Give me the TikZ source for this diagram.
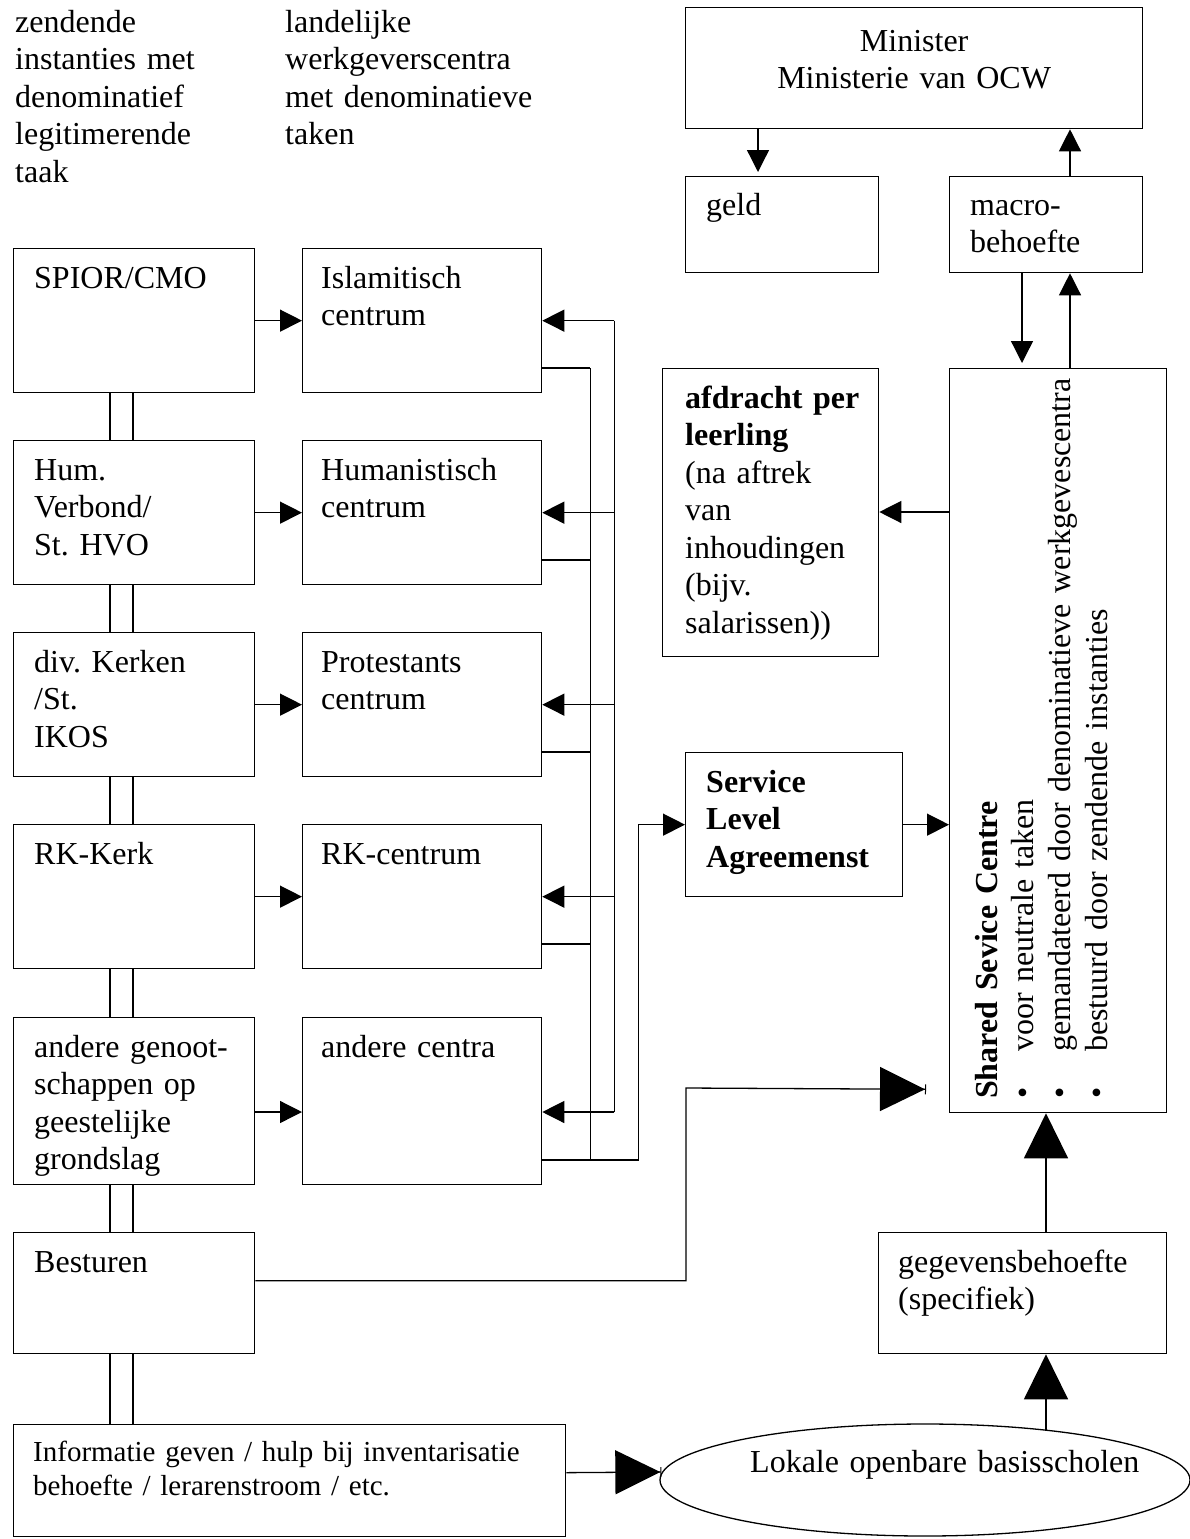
\documentclass[tikz,border=0pt]{standalone}
\usepackage{fontspec}
\setmainfont{Liberation Serif}
\usetikzlibrary{arrows.meta,calc,shapes.geometric}
\newcommand\mainsz{\fontsize{32}{37.5}\selectfont\frenchspacing}
\newcommand\infosz{\fontsize{29}{34.5}\selectfont\frenchspacing}
\begin{document}
\frenchspacing
\begin{tikzpicture}[x=1pt,y=-1pt,
  box/.style={draw,line width=1.3pt,inner sep=0pt,anchor=north west},
  txt/.style={inner sep=0pt,anchor=base west,text width=#1,align=left,font=\mainsz},
  txt/.default=300pt,
  ln/.style={line width=1.3pt},
  arr/.style={line width=1.3pt,-{Triangle[length=22pt,width=22pt]}},
  bigarr/.style={line width=1.3pt,-{Triangle[length=45pt,width=44pt]}},
  bigbar/.style={line width=1.3pt,-{Triangle[length=45pt,width=44pt,sep=0pt]Bar[width=10pt,line width=1pt]}},
]
\useasboundingbox (0,0) rectangle (1190,1539);

% ---------- top texts ----------
\node[txt] (zend) at (15,32) {zendende\\instanties met\\denominatief\\legitimerende\\taak};
\node[txt] (land) at (285,32) {landelijke\\werkgeverscentra\\met denominatieve\\taken};

% ---------- right upper part ----------
\node[box,minimum width=457pt,minimum height=121pt] (min) at (685,7) {};
\node[txt=457pt,align=center,anchor=base] (min-t) at ($(min.north)+(0,44)$) {Minister\\Ministerie van OCW};
\node[box,minimum width=193pt,minimum height=96pt] (geld) at (685,176) {};
\node[txt] (geld-t) at ($(geld.north west)+(21,39)$) {geld};
\node[box,minimum width=193pt,minimum height=96pt] (macro) at (949,176) {};
\node[txt] (macro-t) at ($(macro.north west)+(21,39)$) {macro-\\behoefte};
\node[box,minimum width=216pt,minimum height=288pt] (afdr) at (662,368) {};
\node[txt] (afdr-t) at ($(afdr.north west)+(23,40)$) {\textbf{afdracht per}\\\textbf{leerling}\\(na aftrek\\van\\inhoudingen\\(bijv.\\salarissen))};
\node[box,minimum width=217pt,minimum height=744pt] (ssc) at (949,368) {};
\node[txt=800pt,rotate=90] (ssc-t1) at (997,1099) {\textbf{Shared Sevice Centre}};
\node[txt=800pt,rotate=90] (ssc-t2) at (1033,1099) {\makebox[47pt][l]{\textbullet}voor neutrale taken};
\node[txt=800pt,rotate=90] (ssc-t3) at (1070,1099) {\makebox[47pt][l]{\textbullet}gemandateerd door denominatieve werkgevescentra};
\node[txt=800pt,rotate=90] (ssc-t4) at (1107,1099) {\makebox[47pt][l]{\textbullet}bestuurd door zendende instanties};
\node[box,minimum width=217pt,minimum height=144pt] (sla) at (685,752) {};
\node[txt,font=\mainsz\bfseries] (sla-t) at ($(sla.north west)+(21,40)$) {Service\\Level\\Agreemenst};
\node[box,minimum width=288pt,minimum height=121pt] (geg) at (878,1232) {};
\node[txt] (geg-t) at ($(geg.north west)+(20,40)$) {gegevensbehoefte\\(specifiek)};
\node[draw,line width=1.3pt,ellipse,inner sep=0pt,minimum width=530pt,minimum height=112pt] (lok) at (925,1480) {};
\node[txt=420pt] (lok-t) at (750,1472) {Lokale openbare basisscholen};

% ---------- left columns ----------
\node[box,minimum width=241pt,minimum height=144pt] (spior) at (13,248) {};
\node[box,minimum width=241pt,minimum height=144pt] (hum) at (13,440) {};
\node[box,minimum width=241pt,minimum height=144pt] (div) at (13,632) {};
\node[box,minimum width=241pt,minimum height=144pt] (rkk) at (13,824) {};
\node[box,minimum width=241pt,minimum height=167pt] (andl) at (13,1017) {};
\node[box,minimum width=241pt,minimum height=121pt] (bes) at (13,1232) {};
\node[box,minimum width=552pt,minimum height=112pt] (info) at (13,1424) {};
\node[txt] (spior-t) at ($(spior.north west)+(21,40)$) {SPIOR/CMO};
\node[txt] (hum-t) at ($(hum.north west)+(21,40)$) {Hum.\\Verbond/\\St. HVO};
\node[txt] (div-t) at ($(div.north west)+(21,40)$) {div. Kerken\\/St.\\IKOS};
\node[txt] (rkk-t) at ($(rkk.north west)+(21,40)$) {RK-Kerk};
\node[txt] (andl-t) at ($(andl.north west)+(21,40)$) {andere genoot-\\schappen op\\geestelijke\\grondslag};
\node[txt] (bes-t) at ($(bes.north west)+(21,40)$) {Besturen};
\node[txt=540pt,font=\infosz] (info-t) at ($(info.north west)+(20,37)$) {Informatie geven / hulp bij inventarisatie\\behoefte / lerarenstroom / etc.};

\node[box,minimum width=239pt,minimum height=144pt] (islam) at (302,248) {};
\node[box,minimum width=239pt,minimum height=144pt] (humc) at (302,440) {};
\node[box,minimum width=239pt,minimum height=144pt] (prot) at (302,632) {};
\node[box,minimum width=239pt,minimum height=144pt] (rkc) at (302,824) {};
\node[box,minimum width=239pt,minimum height=167pt] (andc) at (302,1017) {};
\node[txt] (islam-t) at ($(islam.north west)+(19,40)$) {Islamitisch\\centrum};
\node[txt] (humc-t) at ($(humc.north west)+(19,40)$) {Humanistisch\\centrum};
\node[txt] (prot-t) at ($(prot.north west)+(19,40)$) {Protestants\\centrum};
\node[txt] (rkc-t) at ($(rkc.north west)+(19,40)$) {RK-centrum};
\node[txt] (andc-t) at ($(andc.north west)+(19,40)$) {andere centra};

% ---------- double lines ----------
\foreach \a/\b in {spior/hum,hum/div,div/rkk,rkk/andl,andl/bes,bes/info} {
  \draw[ln] ($(\a.south west)+(97,0)$) -- ($(\b.north west)+(97,0)$);
  \draw[ln] ($(\a.south west)+(120,0)$) -- ($(\b.north west)+(120,0)$);
}

% ---------- left to centre ----------
\foreach \a/\b in {spior/islam,hum/humc,div/prot,rkk/rkc}
  \draw[arr] (\a.east) -- (\b.west);
\draw[arr] ($(andl.north east)+(0,95)$) -- ($(andc.north west)+(0,95)$);

% ---------- buses ----------
\foreach \b in {islam,humc,prot,rkc} {
  \draw[arr] ($(\b.east)+(72,0)$) -- (\b.east);
  \draw[ln] ($(\b.north east)+(0,120)$) -- ($(\b.north east)+(48,120)$);
}
\draw[arr] ($(andc.north east)+(72,95)$) -- ($(andc.north east)+(0,95)$);
\draw[ln] ($(islam.east)+(72,0)$) -- ($(andc.north east)+(72,95)$);
\draw[ln] ($(islam.north east)+(48,120)$) -- ($(andc.north east)+(48,143)$);
\draw[arr] ($(andc.north east)+(0,143)$) -- ($(andc.north east)+(96,143)$) |- (sla.west);

% ---------- right side connectors ----------
\draw[arr] (sla.east) -- (sla.east -| ssc.west);
\draw[arr] ($(ssc.north west)+(0,144)$) -- ($(afdr.north east)+(0,144)$);
\draw[arr] ($(min.south west)+(73,0)$) -- ($(geld.north west)+(73,-4)$);
\draw[arr] ($(macro.north west)+(121,0)$) -- ($(min.south west)+(385,0)$);
\draw[arr] ($(macro.south west)+(73,0)$) -- ($(ssc.north west)+(73,-5)$);
\draw[arr] ($(ssc.north west)+(121,0)$) -- ($(macro.south west)+(121,0)$);
\draw[bigarr] ($(geg.north west)+(168,0)$) -- ($(ssc.south west)+(97,0)$);
\draw[bigarr] ($(geg.south west)+(168,76)$) -- ($(geg.south west)+(168,0)$);
\coordinate (k1) at (686,1088);
\draw[bigbar] ($(bes.east)+(0,-12.5)$) -| (k1) -- ($(ssc.south west)+(-23,-24)$);
\draw[bigbar] ($(info.east)+(0,-8)$) -- ($(lok.west)+(2,-8)$);
\end{tikzpicture}
\end{document}
